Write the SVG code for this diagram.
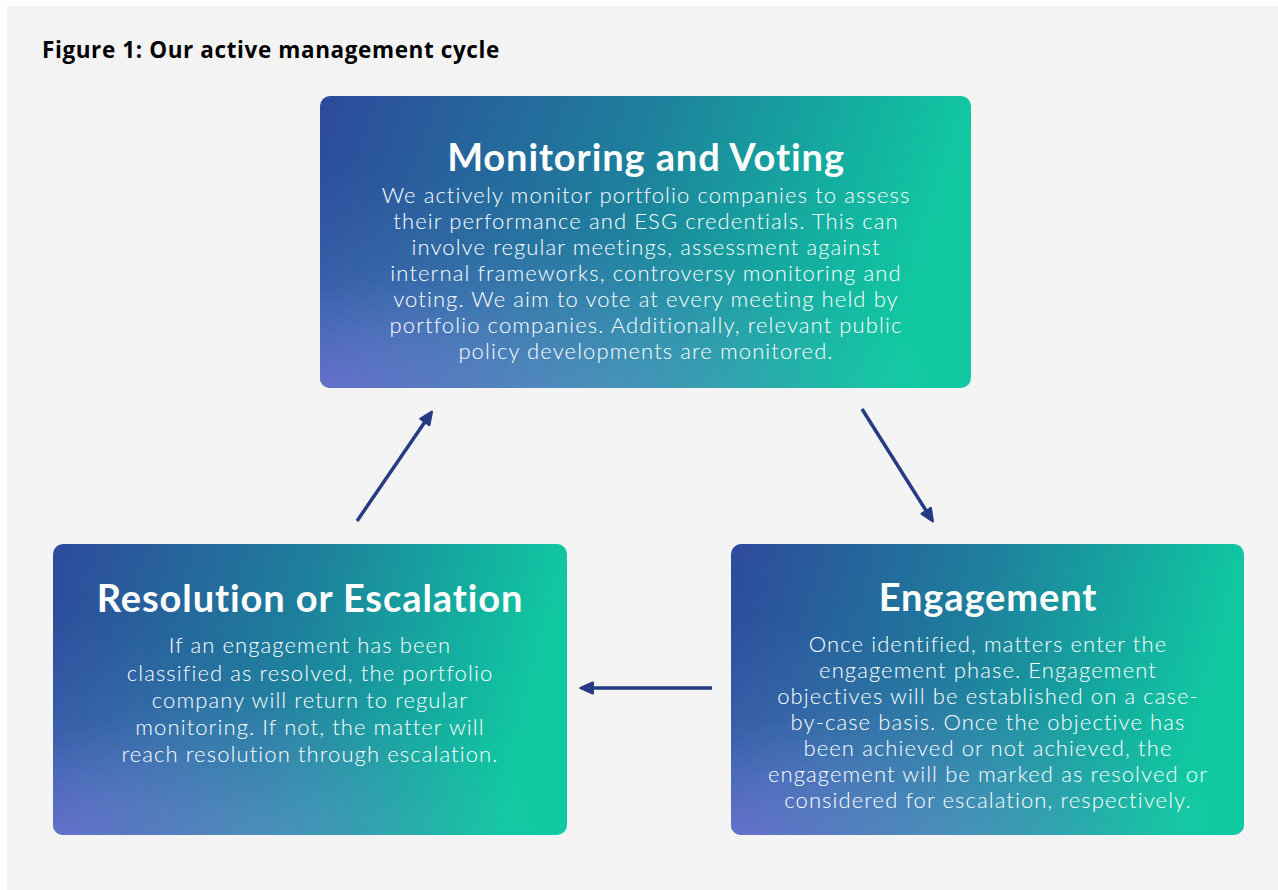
<svg xmlns="http://www.w3.org/2000/svg" width="1278" height="890" viewBox="0 0 1278 890">
<defs>
<linearGradient id="gBase" x1="0" y1="0" x2="1" y2="0.15">
<stop offset="0" stop-color="#2e4a9c"/>
<stop offset="0.5" stop-color="#1e7f9c"/>
<stop offset="0.8" stop-color="#14aca0"/>
<stop offset="1" stop-color="#11c9a1"/>
</linearGradient>
<radialGradient id="gGlow" cx="0" cy="1" r="0.75">
<stop offset="0" stop-color="#6a6cd0" stop-opacity="0.85"/>
<stop offset="0.55" stop-color="#5a78c8" stop-opacity="0.25"/>
<stop offset="1" stop-color="#5a78c8" stop-opacity="0"/>
</radialGradient>
<radialGradient id="gBottom" cx="0.4" cy="1.05" r="0.55">
<stop offset="0" stop-color="#8aa8e0" stop-opacity="0.35"/>
<stop offset="1" stop-color="#8aa8e0" stop-opacity="0"/>
</radialGradient>
<marker id="ah" viewBox="0 0 10 10" refX="8" refY="5" markerWidth="4.4" markerHeight="4.4" orient="auto" markerUnits="strokeWidth">
<path d="M1,1.5 L9,5 L1,8.5 Z" fill="#263b82" stroke="#263b82" stroke-width="1.5" stroke-linejoin="round"/>
</marker>
</defs>
<style>
.bg{fill:#f4f4f4}
.fig{font-family:"Open Sans","Liberation Sans",sans-serif;font-weight:700;font-size:22.5px;letter-spacing:0.6px;fill:#000}
.ttl{font-family:Lato,"Liberation Sans",sans-serif;font-weight:700;font-size:38px;letter-spacing:0.9px;fill:#fff;text-anchor:middle}
.bdy{font-family:Lato,"Liberation Sans",sans-serif;font-weight:300;font-size:22px;letter-spacing:1.1px;fill:#fff;text-anchor:middle}
.conn{stroke:#263b82;stroke-width:3.5;fill:none;marker-end:url(#ah)}
</style>
<rect x="0" y="0" width="1278" height="890" fill="#ffffff"/>
<rect class="bg" x="7" y="6" width="1271" height="884"/>
<text class="fig" x="42" y="58">Figure 1: Our active management cycle</text>

<g id="node-monitoring">
<rect x="320" y="96" width="651" height="292" rx="10" fill="url(#gBase)"/>
<rect x="320" y="96" width="651" height="292" rx="10" fill="url(#gGlow)"/>
<rect x="320" y="96" width="651" height="292" rx="10" fill="url(#gBottom)"/>
<text class="ttl" x="646" y="171">Monitoring and Voting</text>
<text class="bdy" x="646" y="203">We actively monitor portfolio companies to assess</text>
<text class="bdy" x="646" y="229">their performance and ESG credentials. This can</text>
<text class="bdy" x="646" y="255">involve regular meetings, assessment against</text>
<text class="bdy" x="646" y="281">internal frameworks, controversy monitoring and</text>
<text class="bdy" x="646" y="307">voting. We aim to vote at every meeting held by</text>
<text class="bdy" x="646" y="333">portfolio companies. Additionally, relevant public</text>
<text class="bdy" x="646" y="359">policy developments are monitored.</text>
</g>

<g id="node-engagement">
<rect x="731" y="544" width="513" height="291" rx="10" fill="url(#gBase)"/>
<rect x="731" y="544" width="513" height="291" rx="10" fill="url(#gGlow)"/>
<rect x="731" y="544" width="513" height="291" rx="10" fill="url(#gBottom)"/>
<text class="ttl" x="988" y="611">Engagement</text>
<text class="bdy" x="988" y="652">Once identified, matters enter the</text>
<text class="bdy" x="988" y="678">engagement phase. Engagement</text>
<text class="bdy" x="988" y="704">objectives will be established on a case-</text>
<text class="bdy" x="988" y="730">by-case basis. Once the objective has</text>
<text class="bdy" x="988" y="756">been achieved or not achieved, the</text>
<text class="bdy" x="988" y="782">engagement will be marked as resolved or</text>
<text class="bdy" x="988" y="808">considered for escalation, respectively.</text>
</g>

<g id="node-resolution">
<rect x="53" y="544" width="514" height="291" rx="10" fill="url(#gBase)"/>
<rect x="53" y="544" width="514" height="291" rx="10" fill="url(#gGlow)"/>
<rect x="53" y="544" width="514" height="291" rx="10" fill="url(#gBottom)"/>
<text class="ttl" x="310" y="612">Resolution or Escalation</text>
<text class="bdy" x="310" y="653">If an engagement has been</text>
<text class="bdy" x="310" y="681">classified as resolved, the portfolio</text>
<text class="bdy" x="310" y="708">company will return to regular</text>
<text class="bdy" x="310" y="735">monitoring. If not, the matter will</text>
<text class="bdy" x="310" y="762">reach resolution through escalation.</text>
</g>

<g id="connectors">
<line class="conn" x1="357" y1="521" x2="431" y2="413"/>
<line class="conn" x1="862" y1="409" x2="932" y2="520"/>
<line class="conn" x1="712" y1="688" x2="582" y2="688"/>
</g>
</svg>
